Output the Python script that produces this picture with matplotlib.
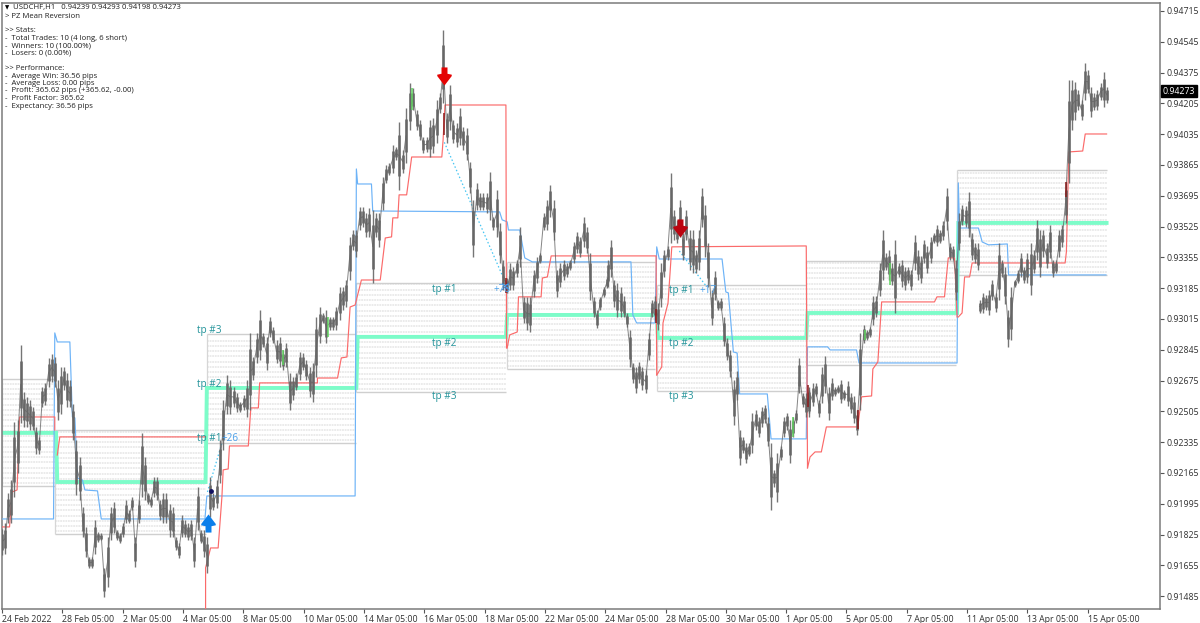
#!/usr/bin/env python
import numpy as np
import matplotlib
matplotlib.use('Agg')
import matplotlib.pyplot as plt
from matplotlib.path import Path

# all prices in points (1 point = 0.00001), x in H1 bars from the left edge
hi_a = [91858,91886,92052,92125,92447,92456,92870,92613,92585,92567,92530,92420,92364,92640,92659,92797,92824,92806,92677,92751,92751,92714,92677,92548,92346,92254,91978,91868,91702,91702,91904,91840,91831,91638,91812,91978,92006,91849,91831,91886,92015,91960,92033,91812,92015,92383,92254,92052,92033,92144,92144,92015,92052,92052,91996,91978,91812,91776,91932,91904,91886,91904,91812,92088,91849,91849,91812]
lo_a = [91711,91720,91886,91886,92033,92162,92438,92420,92420,92401,92401,92272,92272,92530,92539,92640,92668,92640,92456,92493,92622,92530,92530,92346,92042,92015,91812,91702,91638,91638,91720,91785,91794,91481,91536,91794,91831,91794,91776,91812,91886,91886,91960,91647,91886,92033,92015,91996,91978,92033,92015,91904,91886,91886,91812,91812,91739,91693,91812,91812,91794,91794,91647,91849,91776,91702,91610]
hi_b = [92144,92052,92125,92346,92567,92705,92677,92640,92604,92558,92594,92677]
lo_b = [91923,91960,91969,92107,92291,92493,92493,92530,92502,92502,92512,92475]
hi_c = [92936,92807,92936,93064,92936,92917,93028,92972,92899,92917,92844,92880,92715,92696,92715,92834,92825,92788,92752,92770,93028,93083,93046,93064,93028,93028,93083,93193,93193,93230,93469,93506,93506,93635,93635,93598,93626,93616,93598,93598,93800,93865,93874,93975,93966,94104,93948,94178]
lo_c = [92512,92678,92770,92788,92862,92733,92917,92880,92770,92752,92733,92752,92512,92568,92623,92678,92733,92678,92586,92558,92696,92880,92991,92880,92954,92954,92954,93009,93064,93083,93230,93396,93359,93506,93524,93469,93469,93212,93469,93414,93616,93764,93810,93819,93892,93727,93819,93874]
hi_d = [94316,94288,94168,94113,94021,94021,94113,94122,94224,94260,94610,94150,94306,94113,94095,94178,94076,94067,93883,93672,93764,93708,93708,93708,93828,93580,93727,93543,93340,93239,93322,93304,93340,93524,93138,93138,93138,93285,93359,93377,93598,93672,93754,93672,93285,93322,93340,93322,93340,93442,93497,93469,93580,93524,93377,93138,93064,93138,93193,93248]
lo_d = [94058,94168,94058,94003,93929,93938,93911,93929,93984,94150,94205,93984,94058,93984,93966,93975,93948,93892,93708,93359,93616,93616,93616,93598,93561,93506,93469,93322,93175,93156,93175,93175,93248,93304,92991,92954,92945,93138,93212,93322,93506,93506,93580,93451,93138,93193,93230,93248,93285,93322,93377,93359,93414,93377,93120,93028,92963,93064,93138,93184]
hi_e = [93341,93451,93231,93212,93194,93139,93047,92955,92771,92752,92780,92752,92734,92936,93120,93139,93102,93323,93396,93415,93819,93617,93562,93672,93488,93617,93507,93507,93396,93507,93737,93645,93433,93175,93277,93120,93129,93028,92909,92844,92679,92725,92403,92366,92329,92329,92495,92513,92476,92531,92541,92476,92329,92182,92274,92311,92476,92495,92458,92476,92513,92798,92605,92605,92642]
lo_e = [93194,93249,93083,93028,93028,93028,92973,92752,92660,92605,92660,92623,92605,92789,93028,93010,92955,93083,93249,93341,93433,93451,93433,93470,93341,93451,93286,93267,93267,93286,93525,93359,93194,92982,93120,93065,93065,92863,92789,92697,92430,92568,92209,92274,92219,92256,92274,92403,92366,92421,92440,92311,91961,92090,92007,92237,92366,92403,92219,92366,92440,92605,92531,92476,92495]
hi_f = [92623,92660,92660,92568,92752,92808,92642,92688,92642,92651,92679,92624,92670,92605,92587,92513,92936,92982,92955,92973,93139,93139,93323,93507,93378,93396,93323,93452,93323,93341,93304,93304,93286,93479,93396,93360,93452,93415,93470,93488,93534,93507,93553,93737,93433,93415,93341,93599,93645,93636,93718,93488,93433,93433]
lo_f = [92476,92532,92587,92476,92550,92605,92458,92568,92587,92605,92550,92568,92532,92495,92440,92375,92513,92881,92900,92918,92982,93028,93139,93231,93286,93231,93203,93047,93249,93194,93176,93212,93176,93286,93231,93212,93323,93268,93323,93433,93415,93433,93452,93507,93341,93341,93120,93396,93534,93525,93470,93341,93323,93286]
hi_g = [93120,93157,93148,93175,93230,93157,93433,93341,93304,93065,93194,93230,93286,93378,93304,93378,93433,93396,93562,93506,93506,93433,93534,93341,93341,93506,93534,93773,94334,94334,94325,94279,94224,94426,94390,94298,94261,94279,94316,94380,94298]
lo_g = [93047,93046,93065,93037,93120,93056,93120,93249,93100,92862,92899,93194,93212,93249,93212,93212,93148,93267,93341,93249,93359,93295,93350,93249,93267,93359,93414,93543,93764,94058,94114,94169,94114,94224,94261,94132,94169,94169,94224,94187,94206]
# bar span of each stretch above
span_a, span_b, span_c = (0, 163), (165.5, 195), (197.3, 321.5)
span_d, span_e, span_f, span_g = (324.7, 481.4), (482.2, 642.1), (642.5, 777), (778, 879.3)

# coloured candles: bar, high, low
up_bars = [(223.5,92844,92761),(259.5,93028,92917),(326.5,94288,94168),(629.5,92476,92366),(687,92955,92900),(706.5,93323,93203)]
down_bars = [(351.5,94150,94030),(401,93239,93156),(520.5,93070,92990),(641,92650,92530),(681,92510,92410),(847,93770,93690)]

red_1_x = [0,6,8,12,14,42,42]
red_1_y = [91867,91867,92060,92071,92474,92474,92402]
red_2_x = [44,46,162]
red_2_y = [92264,92364,92364]
red_3_x = [162,162,166,172,175,176,180,181,196,198,204,205,251,251,267,270,274.5,277,281,286,301,305,310,311,315,316,322,326,350,351,352.5,401,401.5]
red_3_y = [91414,91641,91751,91751,92033,92182,92187,92314,92314,92524,92524,92662,92662,92689,92689,92800,92805,93081,93092,93230,93230,93462,93468,93573,93573,93700,93700,93909,93909,94003,94196,94196,92855]
red_4_x = [402,404,410,411,429,430,434,437,520.5,521]
red_4_y = [92855,92927,92943,93137,93137,93241,93247,93363,93363,92706]
red_5_x = [521,525,526,530,533,640,641]
red_5_y = [92706,92750,92993,93103,93413,93418,92193]
red_6_x = [641,643,647,652,656,681,684,692,693,697,700,742,744,750,753,758,760]
red_6_y = [92193,92253,92281,92281,92419,92419,92585,92590,92739,92778,93109,93109,93137,93137,93352,93352,93026]
red_7_x = [761,764,766,770,772,846,847,849,860,862,879]
red_7_y = [93026,93048,93247,93247,93324,93324,93385,93937,93942,94036,94036]

blue_x = [0,41,42,44,54,56,58,60,64,66,76,79,161.5,163,281,282,283,294,295,396,398,402,403,412,416,422,500.5,502,505,519.6,521,523,573,576,578,582,585,587,609,612,640,641,657,659,680,682,760,761,762,777,780,785,800,801,878.5]
blue_y = [91911,91911,92938,92888,92888,92474,92469,92137,92126,92071,92066,91911,91911,92038,92038,93843,93760,93760,93611,93606,93562,93551,93506,93506,93352,93330,93330,93037,92993,92993,93413,93346,93346,93164,93159,92833,92827,92601,92601,92353,92353,92861,92861,92844,92844,92772,92772,93766,93517,93517,93440,93424,93429,93258,93258]

mid_x = [0,43,44,162,163,282,283,401,402,521,522,640,641,760,761,879]
mid_y = [92386,92386,92115,92115,92634,92634,92916,92916,93037,93037,92910,92910,93048,93048,93545,93545]

band_start = [0,42,163,282,402,521,640,760]
band_end = [42,162,282,401,520,640,759,879]
band_top = [92684,92402,92932,93214,93330,93203,93335,93838]
band_bottom = [92093,91828,92331,92612,92739,92618,92761,93258]

trade_lines = [([163.5,175],[92060,92330]),([352,401],[93990,93210]),([539,560],[93390,93200])]

price_ticks = [94715,94545,94375,94205,94035,93865,93695,93525,93355,93185,93015,92845,92675,92505,92335,92165,91995,91825,91655,91485]
time_labels = ['24 Feb 2022','28 Feb 05:00','2 Mar 05:00','4 Mar 05:00','8 Mar 05:00','10 Mar 05:00','14 Mar 05:00','16 Mar 05:00','18 Mar 05:00','22 Mar 05:00','24 Mar 05:00','28 Mar 05:00','30 Mar 05:00','1 Apr 05:00','5 Apr 05:00','7 Apr 05:00','11 Apr 05:00','13 Apr 05:00','15 Apr 05:00']

panel = [(16,'> PZ Mean Reversion'),(30,'>> Stats:'),(38.5,'-  Total Trades: 10 (4 long, 6 short)'),(46,'-  Winners: 10 (100.00%)'),(53.5,'-  Losers: 0 (0.00%)'),
	(68,'>> Performance:'),(76,'-  Average Win: 36.56 pips'),(83.5,'-  Average Loss: 0.00 pips'),(91,'-  Profit: 365.62 pips (+365.62, -0.00)'),(98.5,'-  Profit Factor: 365.62'),(106,'-  Expectancy: 36.56 pips')]

def pr(a):
	return np.array(a)/1e5

plt.rcParams['font.family'] = 'Open Sans'
txtsize = 6.3
panelsize = 5.6
barcolor = '#666666'
fig = plt.figure(figsize=(12,6.23), dpi=100)
ax = fig.add_axes([2/1200., 1-609/623., 1158/1200., 606/623.])

# take-profit bands
for s, e, t, b in zip(band_start, band_end, band_top, band_bottom):
	rows = np.arange(b+14, t-7, 29)
	ax.hlines(pr(rows), s, e, color='#e6e6e6', linewidth=1.1, linestyle=(0,(1.2,0.5)), zorder=1)
	ax.hlines(pr([t,b]), s, e, color='#cfcfcf', linewidth=1.0, zorder=1.2)
	ax.vlines(s, pr(b), pr(t), color='#d6d6d6', linewidth=0.9, zorder=1.2)

for lx, ly in trade_lines:
	ax.plot(lx, pr(ly), color='#45c5f2', linewidth=0.9, linestyle=(0,(1.2,1.8)), zorder=2)

ax.plot(mid_x, pr(mid_y), color='#7dfcc9', linewidth=2.8, solid_joinstyle='miter', zorder=2.5)
ax.plot(blue_x, pr(blue_y), color='#6db3f7', linewidth=0.85, zorder=2.6)
for rx, ry in [(red_1_x,red_1_y),(red_2_x,red_2_y),(red_3_x,red_3_y),(red_4_x,red_4_y),(red_5_x,red_5_y),(red_6_x,red_6_y),(red_7_x,red_7_y)]:
	ax.plot(rx, pr(ry), color='#fb6a6a', linewidth=0.85, zorder=2.7)

# price bars: wick, thicker body, and a thin line tying the bars together
for span, hi, lo in [(span_a,hi_a,lo_a),(span_b,hi_b,lo_b),(span_c,hi_c,lo_c),(span_d,hi_d,lo_d),(span_e,hi_e,lo_e),(span_f,hi_f,lo_f),(span_g,hi_g,lo_g)]:
	xs = np.linspace(span[0], span[1], len(hi))
	h, l = np.array(hi), np.array(lo)
	c = (h+l)/2.
	ax.plot(xs, pr(c), color=barcolor, linewidth=0.7, alpha=0.8, zorder=3)
	ax.vlines(xs, pr(l), pr(h), color=barcolor, linewidth=1.0, alpha=0.9, zorder=3)
	ax.vlines(xs, pr(c-(h-l)*0.3), pr(c+(h-l)*0.3), color=barcolor, linewidth=2.0, alpha=0.88, zorder=3)
ax.vlines([b[0] for b in up_bars], pr([b[2] for b in up_bars]), pr([b[1] for b in up_bars]), color='#5fd35f', linewidth=1.1, zorder=3.2)
ax.vlines([b[0] for b in down_bars], pr([b[2] for b in down_bars]), pr([b[1] for b in down_bars]), color='#8a1a1a', linewidth=1.1, zorder=3.2)

# trade arrows
arrow_d = Path([(-0.33,1),(0.33,1),(0.33,0.3),(0.8,0.2),(0.8,0.05),(0,-1),(-0.8,0.05),(-0.8,0.2),(-0.33,0.3),(-0.33,1)], closed=True)
arrow_u = Path([(-0.33,-1),(0.33,-1),(0.33,-0.3),(0.8,-0.2),(0.8,-0.05),(0,1),(-0.8,-0.05),(-0.8,-0.2),(-0.33,-0.3),(-0.33,-1)], closed=True)
ax.scatter([164], [0.91890], marker=arrow_u, s=170, color='#0c7fea', linewidth=0, zorder=5)
ax.scatter([351.5], [0.94355], marker=arrow_d, s=170, color='#e40303', linewidth=0, zorder=5)
ax.scatter([539.5], [0.93515], marker=arrow_d, s=170, color='#bb0410', linewidth=0, zorder=5)
ax.scatter([166], [0.92064], marker='o', s=6, color='#101060', zorder=5)
ax.scatter([400], [0.93195], marker='x', s=22, color='#2c7fd8', linewidth=0.7, zorder=5)

tp = '#23939a'
for x0, y0, s in [(155,92950,'tp #3'),(155,92655,'tp #2'),(155,92355,'tp #1'),
	(342,93180,'tp #1'),(342,92880,'tp #2'),(342,92585,'tp #3'),
	(531,93170,'tp #1'),(531,92880,'tp #2'),(531,92585,'tp #3')]:
	ax.text(x0, y0/1e5, s, color=tp, fontsize=7.2, va='center', zorder=6)
ax.text(391, 0.93180, '+78', color='#4aa0ea', fontsize=7.2, va='center', zorder=6)
ax.text(555, 0.93170, '+17', color='#4aa0ea', fontsize=7.2, va='center', zorder=6)
ax.text(175, 0.92355, '+26', color='#4aa0ea', fontsize=7.2, va='center', zorder=6)

ax.set_xlim(0, 921.5)
ax.set_ylim(0.91414, 0.94759)
ax.yaxis.tick_right()
ax.set_yticks(pr(price_ticks))
ax.set_yticklabels(['%.5f' % (p/1e5) for p in price_ticks])
ax.set_xticks(np.arange(len(time_labels))*48)
ax.set_xticklabels(time_labels, ha='left')
ax.tick_params(axis='x', length=3, width=0.8, color='#555555', pad=1.5, labelsize=txtsize, labelcolor='#303030')
ax.tick_params(axis='y', length=3, width=0.8, color='#555555', pad=1.5, labelsize=txtsize, labelcolor='#303030')
for sp in ax.spines.values():
	sp.set_color('#7a7a7a')
	sp.set_linewidth(1.1)

# current price tag
ax.text(1.0025, 0.94273, '0.94273', transform=ax.get_yaxis_transform(), color='white', fontsize=txtsize, va='center', ha='left',
	bbox=dict(facecolor='black', edgecolor='black', pad=1.3), zorder=8, clip_on=False)

# info panel
fig.text(5/1200., 1-7.5/623., u'\u25bc', fontsize=4, family='DejaVu Sans', color='black', va='center')
fig.text(13/1200., 1-7.5/623., 'USDCHF,H1   0.94239 0.94293 0.94198 0.94273', fontsize=panelsize, color='#202020', va='center')
for py, s in panel:
	fig.text(5/1200., 1-py/623., s, fontsize=panelsize, color='#202020', va='center')

plt.savefig('out.png', dpi=100)
